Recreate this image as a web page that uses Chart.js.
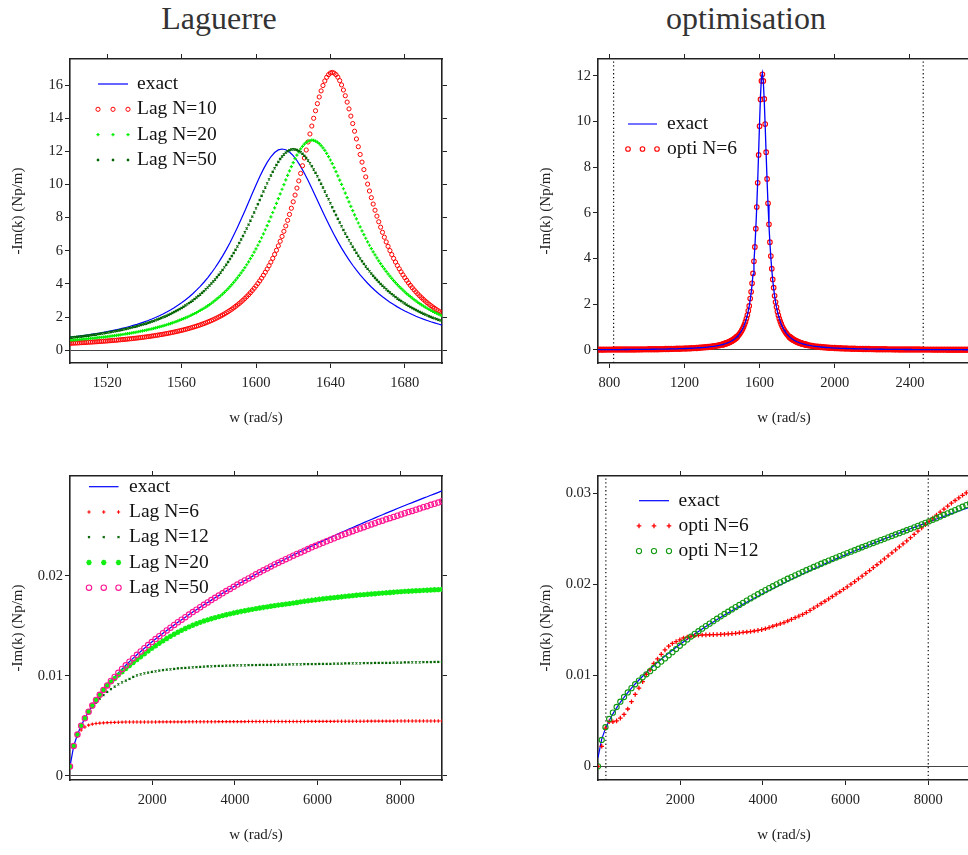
<!DOCTYPE html>
<html lang="fr">
<head>
<meta charset="utf-8">
<title>Laguerre / optimisation</title>
<script src="https://cdn.jsdelivr.net/npm/chart.js@4.4.1/dist/chart.umd.min.js"></script>
<style>
  html, body { margin: 0; padding: 0; background: #fff; }
  body { width: 968px; height: 855px; overflow: hidden; position: relative;
         font-family: "Liberation Serif", "Times New Roman", serif; }
  .titre { position: absolute; top: 2px; width: 240px; text-align: center;
           font-size: 32px; line-height: 32px; color: #333; }
  canvas { position: absolute; }
</style>
</head>
<body>
<div class="titre" style="left:99px">Laguerre</div>
<div class="titre" style="left:626px">optimisation</div>
<canvas id="cA" width="452" height="430" style="left:0;top:0"></canvas>
<canvas id="cB" width="452" height="430" style="left:528px;top:0"></canvas>
<canvas id="cC" width="452" height="430" style="left:0;top:417px"></canvas>
<canvas id="cD" width="452" height="430" style="left:528px;top:417px"></canvas>
<script>
// ---- top left : Laguerre, zoom sur la resonance ----
const wLag = [1500,1502,1504,1506,1508,1510,1512,1514,1516,1518,1520,1522,1524,1526,1528,1530,1532,1534,1536,1538,
  1540,1542,1544,1546,1548,1550,1552,1554,1556,1558,1560,1562,1564,1566,1568,1570,1572,1574,1576,1578,
  1580,1582,1584,1586,1588,1590,1592,1594,1596,1598,1600,1602,1604,1606,1608,1610,1612,1614,1616,1618,
  1620,1622,1624,1626,1628,1630,1632,1634,1636,1638,1640,1642,1644,1646,1648,1650,1652,1654,1656,1658,
  1660,1662,1664,1666,1668,1670,1672,1674,1676,1678,1680,1682,1684,1686,1688,1690,1692,1694,1696,1698,1700];
// points intermediaires (les marqueurs sont traces tous les 1 rad/s)
const wLagMid = [1501,1503,1505,1507,1509,1511,1513,1515,1517,1519,1521,1523,1525,1527,1529,1531,1533,1535,1537,1539,
  1541,1543,1545,1547,1549,1551,1553,1555,1557,1559,1561,1563,1565,1567,1569,1571,1573,1575,1577,1579,
  1581,1583,1585,1587,1589,1591,1593,1595,1597,1599,1601,1603,1605,1607,1609,1611,1613,1615,1617,1619,
  1621,1623,1625,1627,1629,1631,1633,1635,1637,1639,1641,1643,1645,1647,1649,1651,1653,1655,1657,1659,
  1661,1663,1665,1667,1669,1671,1673,1675,1677,1679,1681,1683,1685,1687,1689,1691,1693,1695,1697,1699];
const exactLag = [.786,.813,.841,.870,.900,.933,.967,1.002,1.040,1.080,
  1.122,1.167,1.214,1.264,1.317,1.373,1.433,1.497,1.564,1.637,
  1.714,1.796,1.884,1.978,2.079,2.187,2.303,2.428,2.562,2.707,
  2.863,3.032,3.214,3.410,3.623,3.853,4.101,4.370,4.661,4.975,
  5.314,5.679,6.070,6.488,6.933,7.402,7.895,8.405,8.927,9.452,
  9.969,10.466,10.926,11.334,11.673,11.928,12.086,12.140,12.094,11.959,
  11.740,11.446,11.090,10.683,10.240,9.771,9.290,8.805,8.325,7.855,
  7.402,6.967,6.554,6.163,5.796,5.451,5.128,4.827,4.546,4.285,
  4.042,3.815,3.605,3.410,3.228,3.058,2.900,2.753,2.616,2.488,
  2.369,2.257,2.152,2.054,1.963,1.876,1.796,1.719,1.648,1.580,1.517];
const lag10 = [.416,.428,.440,.453,.466,.480,.495,.510,.526,.542,
  .560,.578,.597,.618,.639,.661,.685,.709,.735,.763,
  .792,.823,.855,.890,.926,.965,1.006,1.050,1.097,1.147,
  1.200,1.257,1.318,1.383,1.453,1.529,1.610,1.698,1.792,1.895,
  2.006,2.127,2.258,2.402,2.558,2.729,2.917,3.123,3.350,3.601,
  3.877,4.184,4.523,4.899,5.317,5.781,6.295,6.866,7.498,8.193,
  8.955,9.781,10.667,11.600,12.563,13.525,14.446,15.279,15.970,16.466,
  16.726,16.720,16.475,16.007,15.353,14.559,13.675,12.747,11.811,10.897,
  10.024,9.205,8.446,7.749,7.113,6.535,6.012,5.539,5.112,4.726,
  4.377,4.061,3.775,3.516,3.281,3.066,2.871,2.693,2.529,2.380,2.242];
const lag10Mid = [.422,.434,.446,.459,.473,.487,.502,.518,.534,.551,
  .569,.588,.607,.628,.650,.673,.697,.722,.749,.777,
  .807,.839,.872,.908,.945,.985,1.028,1.073,1.121,1.173,
  1.228,1.287,1.350,1.418,1.490,1.569,1.653,1.744,1.843,1.949,
  2.065,2.191,2.328,2.478,2.642,2.821,3.018,3.234,3.473,3.736,
  4.027,4.349,4.706,5.102,5.543,6.031,6.574,7.174,7.837,8.566,
  9.360,10.217,11.129,12.080,13.046,13.993,14.877,15.646,16.245,16.628,
  16.759,16.627,16.267,15.700,14.970,14.125,13.214,12.278,11.350,10.455,
  9.608,8.818,8.090,7.423,6.817,6.267,5.770,5.320,4.914,4.547,
  4.215,3.915,3.643,3.396,3.171,2.966,2.780,2.609,2.453,2.310];
const lag20 = [.601,.619,.637,.657,.678,.699,.722,.745,.770,.796,
  .823,.852,.882,.914,.948,.983,1.020,1.059,1.101,1.145,
  1.192,1.241,1.294,1.349,1.408,1.471,1.539,1.610,1.687,1.768,
  1.856,1.950,2.050,2.158,2.274,2.399,2.534,2.679,2.836,3.006,
  3.189,3.388,3.603,3.837,4.090,4.365,4.663,4.986,5.335,5.713,
  6.120,6.557,7.024,7.519,8.042,8.586,9.146,9.713,10.275,10.817,
  11.323,11.773,12.149,12.433,12.609,12.670,12.618,12.463,12.213,11.879,
  11.476,11.019,10.524,10.005,9.476,8.946,8.426,7.922,7.438,6.978,
  6.543,6.134,5.752,5.395,5.063,4.754,4.468,4.203,3.957,3.729,
  3.518,3.322,3.141,2.972,2.815,2.670,2.534,2.408,2.290,2.180,2.077];
const lag20Mid = [.610,.628,.647,.667,.688,.710,.733,.758,.783,.810,
  .838,.867,.898,.931,.965,1.001,1.040,1.080,1.123,1.168,
  1.216,1.267,1.321,1.378,1.440,1.505,1.574,1.648,1.727,1.812,
  1.902,1.999,2.103,2.215,2.336,2.465,2.605,2.756,2.919,3.096,
  3.287,3.493,3.718,3.961,4.225,4.511,4.821,5.157,5.521,5.913,
  6.335,6.787,7.268,7.777,8.311,8.864,9.429,9.995,10.550,11.076,
  11.556,11.972,12.304,12.535,12.654,12.657,12.553,12.349,12.055,11.685,
  11.253,10.775,10.266,9.741,9.210,8.685,8.172,7.677,7.205,6.757,
  6.335,5.940,5.570,5.226,4.906,4.609,4.333,4.078,3.841,3.622,
  3.418,3.230,3.055,2.892,2.741,2.601,2.470,2.348,2.234,2.128];
const lag50 = [.758,.782,.808,.834,.862,.892,.923,.955,.989,1.025,
  1.063,1.102,1.144,1.189,1.236,1.285,1.338,1.394,1.453,1.516,
  1.582,1.653,1.729,1.809,1.895,1.987,2.085,2.191,2.303,2.424,
  2.554,2.693,2.843,3.004,3.178,3.365,3.567,3.785,4.020,4.274,
  4.548,4.843,5.160,5.502,5.867,6.258,6.674,7.115,7.578,8.060,
  8.558,9.064,9.570,10.067,10.540,10.977,11.363,11.682,11.921,12.070,
  12.120,12.076,11.945,11.732,11.448,11.101,10.705,10.272,9.813,9.341,
  8.864,8.391,7.927,7.478,7.047,6.636,6.247,5.879,5.534,5.211,
  4.909,4.626,4.363,4.118,3.890,3.678,3.480,3.296,3.124,2.964,
  2.815,2.676,2.546,2.424,2.310,2.204,2.104,2.011,1.923,1.840,1.762];
const lag50Mid = [.770,.795,.821,.848,.877,.907,.939,.972,1.007,1.044,
  1.082,1.123,1.166,1.212,1.260,1.311,1.365,1.423,1.484,1.548,
  1.617,1.690,1.769,1.852,1.941,2.036,2.137,2.246,2.363,2.488,
  2.622,2.767,2.922,3.089,3.270,3.464,3.674,3.901,4.145,4.408,
  4.693,4.999,5.328,5.682,6.060,6.463,6.892,7.344,7.817,8.307,
  8.810,9.318,9.820,10.307,10.764,11.178,11.532,11.812,12.007,12.107,
  12.109,12.021,11.848,11.598,11.281,10.908,10.492,10.045,9.578,9.103,
  8.627,8.158,7.701,7.260,6.839,6.439,6.060,5.704,5.370,5.057,
  4.765,4.493,4.239,4.002,3.782,3.577,3.386,3.208,3.043,2.888,
  2.744,2.610,2.484,2.366,2.256,2.153,2.057,1.966,1.881,1.801];
const xTicksLag = [1520, 1560, 1600, 1640, 1680];
const yTicksLag = [0, 2, 4, 6, 8, 10, 12, 14, 16];

// ---- top right : optimisation N=6 ----
const wOpt = [740,755,770,785,800,815,830,845,860,875,890,905,920,935,950,965,980,995,1010,1025,
  1040,1055,1070,1085,1100,1115,1130,1145,1160,1175,1190,1205,1220,1235,1250,1265,1280,1295,1310,1325,
  1340,1355,1370,1385,1400,
  1405,1410,1415,1420,1425,1430,1435,1440,1445,1450,1455,1460,1465,1470,1475,1480,1485,1490,1495,1500,
  1505,1510,1515,1520,1525,1530,1535,1540,1545,1550,1555,1560,1565,1570,1575,1580,1585,1590,1595,1600,
  1605,1610,1615,1620,1625,1630,1635,1640,1645,1650,1655,1660,1665,1670,1675,1680,1685,1690,1695,1700,
  1705,1710,1715,1720,1725,1730,1735,1740,1745,1750,1755,1760,1765,1770,1775,1780,1785,1790,1795,1800,
  1805,1810,1815,1820,1825,1830,1835,1840,1845,1850,
  1865,1880,1895,1910,1925,1940,1955,1970,1985,2000,2015,2030,2045,2060,2075,2090,2105,2120,2135,2150,
  2165,2180,2195,2210,2225,2240,2255,2270,2285,2300,2315,2330,2345,2360,2375,2390,2405,2420,2435,2450,
  2465,2480,2495,2510,2525,2540,2555,2570,2585,2600,2615,2630,2645,2660,2675,2690,2705,2720];
const exactOpt = [.0143,.0148,.0153,.0159,.0165,.0171,.0178,.0185,.0192,.0200,.0208,.0217,.0227,.0237,.0248,
  .0259,.0272,.0285,.0299,.0314,.0331,.0349,.0368,.0389,.0412,.0437,.0465,.0495,.0528,.0564,
  .0605,.0650,.0700,.0756,.0819,.0891,.0972,.1064,.1171,.1294,.1438,.1607,.1808,.2048,.2340,
  .2451,.2570,.2698,.2835,.2984,.3144,.3317,.3505,.3709,.3931,
  .4173,.4439,.4730,.5050,.5403,.5794,.6229,.6713,.7255,.7863,
  .8549,.9326,1.021,1.122,1.239,1.373,1.530,1.714,1.930,2.187,
  2.494,2.863,3.310,3.853,4.513,5.314,6.276,7.402,8.665,9.969,
  11.138,11.928,12.129,11.740,10.892,9.771,8.564,7.402,6.356,5.451,
  4.684,4.042,3.506,3.058,2.684,2.369,2.103,1.876,1.683,1.517,
  1.373,1.248,1.139,1.043,.9584,.8834,.8167,.7571,.7037,.6557,
  .6123,.5730,.5374,.5049,.4752,.4481,.4231,.4002,.3791,.3596,
  .3415,.3248,.3092,.2948,.2813,.2687,.2569,.2459,.2356,.2259,
  .2003,.1787,.1604,.1446,.1312,.1195,.1093,.1004,.0925,.0855,.0793,.0737,.0686,.0642,.0600,
  .0563,.0530,.0499,.0470,.0445,.0420,.0399,.0379,.0360,.0343,.0327,.0311,.0297,.0284,.0271,
  .0261,.0250,.0239,.0230,.0221,.0213,.0204,.0197,.0189,.0183,.0177,.0170,.0165,.0160,.0154,
  .0149,.0145,.0140,.0136,.0132,.0128,.0125,.0120,.0117,.0114,.0111,.0107,.0104];
const optiN6 = [.0143,.0148,.0153,.0159,.0165,.0171,.0178,.0185,.0192,.0200,.0208,.0217,.0227,.0237,.0248,
  .0259,.0272,.0285,.0299,.0314,.0331,.0349,.0368,.0389,.0412,.0437,.0465,.0495,.0528,.0564,
  .0605,.0650,.0700,.0756,.0819,.0891,.0972,.106,.117,.129,.144,.161,.181,.205,.234,
  .245,.257,.270,.284,.298,.314,.332,.350,.371,.393,
  .417,.444,.473,.505,.540,.579,.623,.671,.726,.786,
  .855,.933,1.021,1.122,1.239,1.373,1.530,1.714,1.930,2.25,
  2.55,2.92,3.35,3.88,4.51,5.31,6.26,7.32,8.54,9.80,
  10.97,11.78,12.07,11.78,10.99,9.89,8.66,7.49,6.42,5.50,
  4.72,4.11,3.56,3.09,2.73,2.37,2.10,1.88,1.68,1.52,
  1.37,1.25,1.14,1.04,.958,.883,.817,.757,.704,.656,
  .612,.573,.537,.505,.475,.448,.423,.400,.379,.360,
  .342,.325,.309,.295,.281,.269,.257,.246,.236,.226,
  .200,.179,.160,.145,.131,.120,.109,.100,.0925,.0855,.0793,.0737,.0686,.0642,.0600,
  .0563,.0530,.0499,.0470,.0445,.0420,.0399,.0379,.0360,.0343,.0327,.0311,.0297,.0284,.0271,
  .0261,.0250,.0239,.0230,.0221,.0213,.0204,.0197,.0189,.0183,.0177,.0170,.0165,.0160,.0154,
  .0149,.0145,.0140,.0136,.0132,.0128,.0125,.0120,.0117,.0114,.0111,.0107,.0104];
const cutsOpt = [823, 2471];
const xTicksOpt = [800, 1200, 1600, 2000, 2400];
const yTicksOpt = [0, 2, 4, 6, 8, 10, 12];

// ---- bas : large bande de frequences ----
const wBot = [10,100,190,280,370,460,550,640,730,820,910,1000,1090,1180,1270,1360,1450,1540,1630,1720,
  1810,1900,1990,2080,2170,2260,2350,2440,2530,2620,2710,2800,2890,2980,3070,3160,3250,3340,3430,3520,
  3610,3700,3790,3880,3970,4060,4150,4240,4330,4420,4510,4600,4690,4780,4870,4960,5050,5140,5230,5320,
  5410,5500,5590,5680,5770,5860,5950,6040,6130,6220,6310,6400,6490,6580,6670,6760,6850,6940,7030,7120,
  7210,7300,7390,7480,7570,7660,7750,7840,7930,8020,8110,8200,8290,8380,8470,8560,8650,8740,8830,8920,9010];
const exactBot = [.00095,.00300,.00414,.00502,.00577,.00643,.00704,.00759,.00811,.00859,
  .00905,.00949,.00990,.01031,.01069,.01106,.01142,.01177,.01211,.01244,
  .01276,.01308,.01338,.01368,.01397,.01426,.01454,.01482,.01509,.01536,
  .01562,.01587,.01613,.01638,.01662,.01686,.01710,.01734,.01757,.01780,
  .01802,.01825,.01847,.01869,.01890,.01912,.01933,.01953,.01974,.01994,
  .02015,.02035,.02055,.02074,.02094,.02113,.02132,.02151,.02170,.02188,
  .02207,.02225,.02243,.02261,.02279,.02297,.02314,.02332,.02349,.02366,
  .02383,.02400,.02417,.02434,.02450,.02467,.02483,.02499,.02515,.02531,
  .02547,.02563,.02579,.02595,.02610,.02626,.02641,.02656,.02672,.02687,
  .02702,.02717,.02731,.02746,.02761,.02776,.02790,.02805,.02819,.02833,.02848];
const lagBot6 = [.00095,.00300,.00400,.00460,.00490,.00508,.00518,.00524,.00528,.00531,
  .00533,.00535,.00536,.00537,.00538,.00539,.00539,.00540,.00540,.00540,
  .00540,.00540,.00540,.00540,.00541,.00541,.00541,.00541,.00541,.00541,
  .00541,.00541,.00542,.00542,.00542,.00542,.00542,.00542,.00542,.00542,
  .00543,.00543,.00543,.00543,.00543,.00543,.00543,.00543,.00544,.00544,
  .00544,.00544,.00544,.00544,.00544,.00544,.00545,.00545,.00545,.00545,
  .00545,.00545,.00545,.00545,.00546,.00546,.00546,.00546,.00546,.00546,
  .00546,.00546,.00547,.00547,.00547,.00547,.00547,.00547,.00547,.00547,
  .00548,.00548,.00548,.00548,.00548,.00548,.00548,.00548,.00549,.00549,
  .00549,.00549,.00549,.00549,.00549,.00549,.00550,.00550,.00550,.00550,.00550];
const lagBot12 = [.00095,.00300,.00412,.00500,.00572,.00632,.00685,.00732,.00772,.00808,
  .00840,.00868,.00893,.00915,.00935,.00952,.00970,.00990,.01005,.01015,
  .01025,.01033,.01040,.01046,.01052,.01057,.01062,.01066,.01070,.01074,
  .01077,.01080,.01083,.01086,.01088,.01090,.01092,.01094,.01096,.01098,
  .01100,.01101,.01102,.01103,.01104,.01105,.01106,.01106,.01107,.01108,
  .01108,.01109,.01110,.01110,.01111,.01111,.01112,.01113,.01113,.01114,
  .01115,.01115,.01116,.01117,.01117,.01118,.01118,.01119,.01120,.01120,
  .01121,.01122,.01122,.01123,.01124,.01124,.01125,.01125,.01126,.01127,
  .01127,.01128,.01129,.01129,.01130,.01130,.01131,.01132,.01132,.01133,
  .01134,.01134,.01135,.01136,.01136,.01137,.01137,.01138,.01139,.01139,.01140];
const lagBot20 = [.00095,.00300,.00414,.00502,.00577,.00643,.00704,.00759,.00811,.00859,
  .00905,.00940,.00974,.01008,.01041,.01073,.01104,.01134,.01163,.01192,
  .01220,.01248,.01275,.01301,.01326,.01350,.01373,.01395,.01416,.01436,
  .01455,.01473,.01490,.01506,.01521,.01535,.01548,.01560,.01571,.01582,
  .01592,.01602,.01611,.01620,.01628,.01636,.01644,.01651,.01658,.01665,
  .01672,.01678,.01684,.01690,.01696,.01702,.01707,.01712,.01717,.01722,
  .01727,.01733,.01739,.01745,.01750,.01755,.01760,.01765,.01770,.01774,
  .01778,.01782,.01786,.01790,.01794,.01798,.01802,.01806,.01809,.01812,
  .01815,.01818,.01821,.01824,.01827,.01830,.01833,.01836,.01839,.01842,
  .01844,.01846,.01848,.01850,.01852,.01854,.01856,.01858,.01860,.01862,.01864];
const lagBot50 = [.00095,.00300,.00414,.00502,.00577,.00643,.00704,.00759,.00811,.00859,
  .00905,.00949,.00990,.01031,.01069,.01106,.01142,.01177,.01211,.01244,
  .01276,.01308,.01338,.01368,.01397,.01426,.01454,.01482,.01509,.01536,
  .01562,.01587,.01613,.01638,.01662,.01686,.01710,.01734,.01757,.01780,
  .01802,.01825,.01847,.01869,.01890,.01912,.01933,.01953,.01974,.01994,
  .02015,.02035,.02055,.02074,.02094,.02113,.02130,.02148,.02166,.02183,
  .02201,.02218,.02234,.02251,.02267,.02284,.02299,.02315,.02330,.02345,
  .02360,.02375,.02390,.02404,.02418,.02432,.02446,.02459,.02473,.02486,
  .02500,.02513,.02526,.02539,.02551,.02564,.02576,.02588,.02601,.02613,
  .02625,.02637,.02648,.02660,.02672,.02685,.02696,.02709,.02720,.02732,.02744];
const optBot6 = [0,.0022,.0042,.0049,.0049,.0050,.0053,.0057,.0063,.0071,
  .0079,.0086,.0093,.0101,.0106,.0113,.0118,.0123,.0128,.0132,
  .0135,.0137,.0139,.0141,.0142,.0143,.01435,.0144,.01443,.01445,
  .01446,.01447,.01448,.0145,.01452,.01455,.01458,.01462,.01467,.01473,
  .01476,.01481,.01487,.01494,.01502,.01512,.01525,.01539,.01553,.01566,
  .0158,.01597,.01615,.01633,.01651,.01669,.0169,.01714,.01739,.01764,
  .01789,.01814,.0184,.01866,.01892,.01918,.01945,.01972,.02001,.0203,
  .0206,.0209,.0212,.02151,.02183,.02215,.02247,.0228,.02313,.02346,
  .02378,.02411,.02444,.02477,.02512,.02548,.02584,.0262,.02656,.02692,
  .02727,.0276,.02793,.02826,.02859,.02891,.02921,.0295,.02978,.03005,.03032];
const optBot12 = [0,.0029,.0043,.0052,.0059,.00652,.0071,.00762,.00812,.00859,
  .00902,.00942,.00978,.01011,.01046,.01081,.01116,.01151,.01186,.0122,
  .01254,.01289,.01325,.0136,.01395,.01426,.01456,.01485,.01513,.01541,
  .01568,.01595,.01622,.01648,.01674,.01699,.01724,.01749,.01773,.01797,
  .01821,.01845,.01868,.01891,.01914,.01936,.01958,.01979,.02,.02021,
  .02041,.02061,.0208,.02099,.02118,.02137,.02155,.02173,.02191,.02208,
  .02226,.02243,.0226,.02277,.02294,.0231,.02327,.02343,.02359,.02375,
  .02391,.02407,.02423,.02439,.02454,.0247,.02485,.025,.02516,.02531,
  .02547,.02562,.02578,.02594,.0261,.02626,.02642,.02658,.02675,.02692,
  .02709,.02726,.02744,.02762,.0278,.02798,.02816,.02834,.02852,.0287,.02888];
const cutsBot = [200, 8000];
const xTicksBot = [2000, 4000, 6000, 8000];
const yTicksLagBot = [0, 0.01, 0.02];
const yTicksOptBot = [0, 0.01, 0.02, 0.03];

const serif = '"Liberation Serif", "Times New Roman", serif';
const ink = '#222';

function pts(xs, ys) { return xs.map((x, i) => ({ x: x, y: ys[i] })); }

function exactLine(xs, ys, width) {
  return { label: 'exact', data: pts(xs, ys), showLine: true, borderColor: '#0000ff',
           borderWidth: width, pointRadius: 0, tension: 0 };
}
function markers(label, data, style, color, radius, lw, fill) {
  return { label: label, data: data, showLine: false, pointStyle: style,
           pointRadius: radius, pointBorderColor: color, pointBorderWidth: lw,
           pointBackgroundColor: fill || 'rgba(0,0,0,0)' };
}
function cutLine(x, yr) {
  return { label: '', data: [{ x: x, y: yr[0] }, { x: x, y: yr[1] }], showLine: true,
           borderColor: '#111', borderWidth: 1.2, borderDash: [1.3, 2.6], pointRadius: 0 };
}

// legende dessinee dans le cadre ; la config de legende est gardee hors des options Chart.js
const legendConf = {};
const legendBox = {
  id: 'legendBox',
  afterDatasetsDraw(chart) {
    const opts = legendConf[chart.canvas.id];
    if (!opts) return;
    const { ctx, chartArea } = chart;
    ctx.save();
    ctx.font = '19.5px ' + serif;
    ctx.textBaseline = 'middle';
    opts.items.forEach((item, k) => {
      const ds = chart.data.datasets.find(d => d.label === item.label);
      if (!ds) return;
      const y = chartArea.top + opts.top + k * opts.gap;
      const x0 = chartArea.left + opts.left;
      if (ds.showLine) {
        ctx.strokeStyle = item.color || ds.borderColor;
        ctx.lineWidth = item.width || ds.borderWidth;
        ctx.setLineDash([]);
        ctx.beginPath(); ctx.moveTo(x0, y); ctx.lineTo(x0 + opts.span, y); ctx.stroke();
      } else {
        const lw = item.lw || ds.pointBorderWidth;
        ctx.strokeStyle = ds.pointBorderColor;
        ctx.fillStyle = ds.pointBackgroundColor;
        ctx.lineWidth = lw;
        for (let m = 0; m < 3; m++) {
          Chart.helpers.drawPoint(ctx, { pointStyle: ds.pointStyle, radius: ds.pointRadius,
            rotation: 0, borderWidth: lw }, x0 + m * opts.span / 2, y);
        }
      }
      ctx.fillStyle = '#111';
      ctx.fillText(item.label, chartArea.left + opts.text, y);
    });
    ctx.restore();
  }
};

function axes(xr, yr, xTicks, yTicks) {
  const fixed = vals => scale => { scale.ticks = vals.map(v => ({ value: v })); };
  const border = { display: true, color: '#222', width: 1.6 };
  const grid = { drawOnChartArea: false, tickLength: 5, tickColor: '#222', tickWidth: 1 };
  const tickFont = { family: serif, size: 14.5 };
  return {
    x: { type: 'linear', position: 'bottom', min: xr[0], max: xr[1], border, grid,
         afterBuildTicks: fixed(xTicks), afterFit: s => { s.height = 67; },
         ticks: { autoSkip: false, maxRotation: 0, padding: 6, color: ink, font: tickFont, callback: v => String(v) },
         title: { display: true, text: 'w (rad/s)', color: ink, font: { family: serif, size: 15 },
                  padding: { top: 0, bottom: 3 } } },
    y: { type: 'linear', position: 'left', min: yr[0], max: yr[1], border,
         grid: { ...grid, drawOnChartArea: true, lineWidth: 1,
                 color: c => (c.tick && c.tick.value === 0) ? '#444' : 'rgba(0,0,0,0)' },
         afterBuildTicks: fixed(yTicks), afterFit: s => { s.width = 70; },
         ticks: { autoSkip: false, padding: 2, color: ink, font: tickFont, callback: v => String(v) },
         title: { display: true, text: '-Im(k) (Np/m)', color: ink, font: { family: serif, size: 15 },
                  padding: { top: 9, bottom: 0 } } },
    xTop: { type: 'linear', position: 'top', min: xr[0], max: xr[1], border, grid,
            afterBuildTicks: fixed(xTicks), afterFit: s => { s.height = 0; }, ticks: { display: false } },
    yRight: { type: 'linear', position: 'right', min: yr[0], max: yr[1], border, grid,
              afterBuildTicks: fixed(yTicks), afterFit: s => { s.width = 0; }, ticks: { display: false } }
  };
}

function makePlot(id, o) {
  // les series tracees plus tard passent au-dessus
  o.datasets.forEach((d, i) => { d.order = o.datasets.length - i; });
  legendConf[id] = o.legend;
  new Chart(document.getElementById(id), {
    type: 'scatter',
    data: { datasets: o.datasets },
    options: {
      responsive: false, animation: false, events: [],
      layout: { padding: { left: 0, top: 59, right: 10, bottom: 0 } },
      plugins: { legend: { display: false }, tooltip: { enabled: false } },
      scales: axes(o.xr, o.yr, o.xTicks, o.yTicks)
    },
    plugins: [legendBox]
  });
}

const yrA = [-0.77, 17.57];
makePlot('cA', {
  xr: [1500, 1700], yr: yrA, xTicks: xTicksLag, yTicks: yTicksLag,
  datasets: [
    exactLine(wLag, exactLag, 1.2),
    markers('Lag N=10', pts(wLag, lag10).concat(pts(wLagMid, lag10Mid)), 'circle', '#ff0000', 2.1, 1),
    markers('Lag N=20', pts(wLag, lag20).concat(pts(wLagMid, lag20Mid)), 'cross', '#00ee00', 1.6, 1.2),
    markers('Lag N=50', pts(wLag, lag50).concat(pts(wLagMid, lag50Mid)), 'crossRot', '#006400', 1.5, 1.2)
  ],
  legend: { left: 28, top: 25, gap: 25.3, span: 30, text: 67,
            items: [{ label: 'exact' }, { label: 'Lag N=10' }, { label: 'Lag N=20' }, { label: 'Lag N=50' }] }
});

const yrB = [-0.57, 12.74];
const optiB = markers('opti N=6', pts(wOpt, optiN6), 'circle', '#ff0000', 2.3, 1.1);
// dans les queues les cercles se chevauchent en une bande pleine
optiB.pointBorderWidth = c => (c.raw && c.raw.y < 0.6 ? 1.8 : 1.1);
makePlot('cB', {
  xr: [740, 2720], yr: yrB, xTicks: xTicksOpt, yTicks: yTicksOpt,
  datasets: [
    cutLine(cutsOpt[0], yrB), cutLine(cutsOpt[1], yrB),
    optiB,
    exactLine(wOpt, exactOpt, 1.3)
  ],
  legend: { left: 30, top: 65, gap: 25, span: 29, text: 69,
            items: [{ label: 'exact', color: 'rgba(80,80,255,0.8)', width: 2 }, { label: 'opti N=6', lw: 1.1 }] }
});

const yrC = [-0.0004, 0.02997];
makePlot('cC', {
  xr: [10, 9010], yr: yrC, xTicks: xTicksBot, yTicks: yTicksLagBot,
  datasets: [
    exactLine(wBot, exactBot, 1.2),
    markers('Lag N=6', pts(wBot, lagBot6), 'cross', '#ff0000', 1.7, 1.1),
    markers('Lag N=12', pts(wBot, lagBot12), 'crossRot', '#006400', 1.4, 1.1),
    markers('Lag N=20', pts(wBot, lagBot20), 'star', '#11ee11', 2.7, 1.5),
    markers('Lag N=50', pts(wBot, lagBot50), 'circle', '#ff1493', 2.7, 1.1)
  ],
  legend: { left: 19, top: 10.7, gap: 25.25, span: 29.5, text: 59,
            items: [{ label: 'exact' }, { label: 'Lag N=6' }, { label: 'Lag N=12' }, { label: 'Lag N=20' }, { label: 'Lag N=50' }] }
});

const yrD = [-0.0015, 0.0319];
makePlot('cD', {
  xr: [10, 9010], yr: yrD, xTicks: xTicksBot, yTicks: yTicksOptBot,
  datasets: [
    cutLine(cutsBot[0], yrD), cutLine(cutsBot[1], yrD),
    exactLine(wBot, exactBot, 1.2),
    markers('opti N=6', pts(wBot, optBot6), 'cross', '#ff0000', 2.3, 1.3),
    markers('opti N=12', pts(wBot, optBot12), 'circle', '#119911', 2.6, 1.1)
  ],
  legend: { left: 41, top: 24.7, gap: 25.2, span: 30, text: 80.6,
            items: [{ label: 'exact' }, { label: 'opti N=6' }, { label: 'opti N=12' }] }
});
</script>
</body>
</html>
